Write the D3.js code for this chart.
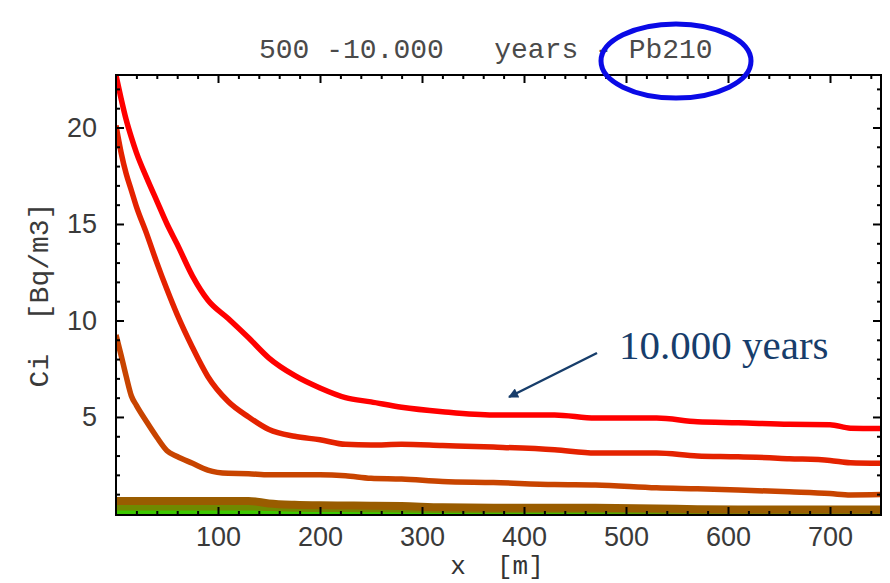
<!DOCTYPE html>
<html lang="en">
<head>
  <meta charset="UTF-8">
  <title>500 -10.000 years - Pb210</title>
  <style>
    body {
      margin: 0;
      background: #fff;
    }
    #chart {
      width: 890px;
      height: 583px;
    }
    .mono {
      font-family: "Liberation Mono", "DejaVu Sans Mono", monospace;
    }
  </style>
  <script src="https://d3js.org/d3.v7.min.js"></script>
</head>
<body>
  <div id="chart"></div>

  <script>
    // distance along x [m]
    const xGrid = [0, 5, 10, 15, 20, 30, 40, 50, 60, 75, 90, 110, 130, 150, 175, 200,
                   225, 250, 280, 320, 370, 430, 470, 530, 570, 610, 660, 700, 720, 750];

    // Ci [Bq/m3], one array per curve
    const curveRed = [22.7, 21.5, 20.4, 19.5, 18.7, 17.4, 16.2, 15.0, 13.95, 12.3, 11.06, 10.1, 9.1, 8.05, 7.15, 6.5,
                      6.0, 5.78, 5.5, 5.27, 5.1, 5.1, 4.94, 4.94, 4.75, 4.7, 4.62, 4.6, 4.42, 4.4];
    const curveRedOrange = [20.1, 18.7, 17.6, 16.75, 15.9, 14.5, 13.0, 11.6, 10.3, 8.6, 7.1, 5.8, 5.0, 4.35, 4.0, 3.82,
                            3.58, 3.55, 3.58, 3.52, 3.44, 3.3, 3.13, 3.13, 2.98, 2.94, 2.84, 2.75, 2.63, 2.6];
    const curveOrange = [9.25, 8.2, 7.1, 6.1, 5.6, 4.75, 3.95, 3.25, 2.95, 2.6, 2.25, 2.08, 2.06, 2.0, 2.0, 2.0,
                         1.95, 1.82, 1.78, 1.66, 1.6, 1.5, 1.48, 1.33, 1.28, 1.22, 1.12, 1.03, 0.96, 0.98];
    const curveBrown = [0.65, 0.65, 0.65, 0.65, 0.65, 0.65, 0.65, 0.65, 0.65, 0.65, 0.65, 0.65, 0.65, 0.52, 0.45, 0.42,
                        0.41, 0.4, 0.38, 0.32, 0.3, 0.3, 0.29, 0.26, 0.22, 0.2, 0.2, 0.2, 0.2, 0.2];
    const curveOlive = [0.31, 0.31, 0.31, 0.31, 0.31, 0.31, 0.31, 0.31, 0.31, 0.31, 0.31, 0.31, 0.31, 0.28, 0.25, 0.23,
                        0.23, 0.22, 0.21, 0.18, 0.17, 0.17, 0.16, 0.14, 0.1, 0.08, 0.08, 0.08, 0.08, 0.08];
    const curveGreen = [0.05, 0.05, 0.05, 0.05, 0.05, 0.05, 0.05, 0.05, 0.05, 0.05, 0.05, 0.05, 0.05, 0.05, 0.05, 0.05,
                        0.05, 0.05, 0.05, 0.05, 0.05, 0.05, 0.04, 0.03, 0.01, 0.0, 0.0, 0.0, 0.0, 0.0];

    const yMajor = [5, 10, 15, 20];
    const xMajor = [100, 200, 300, 400, 500, 600, 700];

    // drawing order: bottom band first, red curves last
    const series = [
      {name: "green", values: curveGreen, color: "#3cc800", width: 6},
      {name: "olive", values: curveOlive, color: "#6f8a00", width: 6},
      {name: "brown", values: curveBrown, color: "#995c00", width: 8},
      {name: "orange", values: curveOrange, color: "#c84400", width: 5.5},
      {name: "redOrange", values: curveRedOrange, color: "#e42200", width: 5.5},
      {name: "red", values: curveRed, color: "#ff0000", width: 5.5}
    ];

    const W = 890, H = 583;
    const plotLeft = 116, plotRight = 881, plotTop = 75, plotBottom = 515;

    const svg = d3.select("#chart").append("svg")
      .attr("width", W)
      .attr("height", H);

    const x = d3.scaleLinear().domain([0, 750]).range([plotLeft, plotRight]);
    const y = d3.scaleLinear().domain([-0.08, 22.72]).range([plotBottom, plotTop]);

    const defs = svg.append("defs");
    defs.append("clipPath").attr("id", "plotClip")
      .append("rect")
      .attr("x", plotLeft).attr("y", plotTop)
      .attr("width", plotRight - plotLeft).attr("height", plotBottom - plotTop);

    const line = d3.line()
      .x((d, i) => x(xGrid[i]))
      .y(d => y(d))
      .curve(d3.curveMonotoneX);

    svg.append("g")
      .attr("clip-path", "url(#plotClip)")
      .selectAll("path")
      .data(series)
      .enter()
      .append("path")
      .attr("d", d => line(d.values))
      .attr("fill", "none")
      .attr("stroke", d => d.color)
      .attr("stroke-width", d => d.width)
      .attr("stroke-linejoin", "round");

    // frame
    svg.append("rect")
      .attr("x", plotLeft).attr("y", plotTop)
      .attr("width", plotRight - plotLeft).attr("height", plotBottom - plotTop)
      .attr("fill", "none")
      .attr("stroke", "#000")
      .attr("stroke-width", 2);

    const yMinor = d3.range(1, 23).filter(v => !yMajor.includes(v));
    const xMinor = d3.range(20, 750, 20).filter(v => !xMajor.includes(v));

    function styleAxis(g) {
      g.select(".domain").remove();
      g.selectAll("line").attr("stroke", "#000").attr("stroke-width", 2);
      g.selectAll("text")
        .attr("fill", "#3a3a3a")
        .attr("font-family", "'Liberation Sans', Arial, sans-serif")
        .attr("font-size", 27);
    }

    // left axis, ticks pointing inward
    svg.append("g")
      .attr("transform", `translate(${plotLeft},0)`)
      .call(d3.axisLeft(y).tickValues(yMajor).tickSize(-8).tickPadding(19))
      .call(styleAxis);
    svg.append("g")
      .attr("transform", `translate(${plotLeft},0)`)
      .call(d3.axisLeft(y).tickValues(yMinor).tickSize(-4).tickFormat(""))
      .call(styleAxis);

    // right axis
    svg.append("g")
      .attr("transform", `translate(${plotRight},0)`)
      .call(d3.axisRight(y).tickValues(yMajor).tickSize(-8).tickFormat(""))
      .call(styleAxis);
    svg.append("g")
      .attr("transform", `translate(${plotRight},0)`)
      .call(d3.axisRight(y).tickValues(yMinor).tickSize(-4).tickFormat(""))
      .call(styleAxis);

    // bottom axis
    svg.append("g")
      .attr("transform", `translate(0,${plotBottom})`)
      .call(d3.axisBottom(x).tickValues(xMajor).tickSize(-8).tickPadding(12))
      .call(styleAxis);
    svg.append("g")
      .attr("transform", `translate(0,${plotBottom})`)
      .call(d3.axisBottom(x).tickValues(xMinor).tickSize(-4).tickFormat(""))
      .call(styleAxis);

    // top axis
    svg.append("g")
      .attr("transform", `translate(0,${plotTop})`)
      .call(d3.axisTop(x).tickValues(xMajor).tickSize(-8).tickFormat(""))
      .call(styleAxis);
    svg.append("g")
      .attr("transform", `translate(0,${plotTop})`)
      .call(d3.axisTop(x).tickValues(xMinor).tickSize(-4).tickFormat(""))
      .call(styleAxis);

    // titles
    svg.append("text")
      .attr("class", "mono")
      .attr("x", 259)
      .attr("y", 58)
      .attr("font-size", 28)
      .attr("fill", "#4a4a4a")
      .style("white-space", "pre")
      .text("500 -10.000   years - Pb210");

    svg.append("text")
      .attr("class", "mono")
      .attr("x", 497)
      .attr("y", 574)
      .attr("text-anchor", "middle")
      .attr("font-size", 26)
      .attr("fill", "#333")
      .style("white-space", "pre")
      .text("x  [m]");

    svg.append("text")
      .attr("class", "mono")
      .attr("transform", "translate(48,295) rotate(-90)")
      .attr("text-anchor", "middle")
      .attr("font-size", 28)
      .attr("fill", "#3a3a3a")
      .style("white-space", "pre")
      .text("Ci  [Bq/m3]");

    // annotation
    svg.append("ellipse")
      .attr("cx", 676)
      .attr("cy", 61)
      .attr("rx", 75)
      .attr("ry", 37)
      .attr("fill", "none")
      .attr("stroke", "#0a0ae6")
      .attr("stroke-width", 5);

    defs.append("marker")
      .attr("id", "arrow")
      .attr("viewBox", "0 0 10 10")
      .attr("refX", 9).attr("refY", 5)
      .attr("markerWidth", 5).attr("markerHeight", 4)
      .attr("orient", "auto")
      .append("path")
      .attr("d", "M0,0 L10,5 L0,10 Z")
      .attr("fill", "#173d6b");

    svg.append("line")
      .attr("x1", 597).attr("y1", 353)
      .attr("x2", 509).attr("y2", 397)
      .attr("stroke", "#173d6b")
      .attr("stroke-width", 2.5)
      .attr("marker-end", "url(#arrow)");

    svg.append("text")
      .attr("x", 619)
      .attr("y", 359)
      .attr("font-family", "'Liberation Serif', 'Times New Roman', serif")
      .attr("font-size", 41)
      .attr("fill", "#173d6b")
      .text("10.000 years");
  </script>
</body>
</html>
